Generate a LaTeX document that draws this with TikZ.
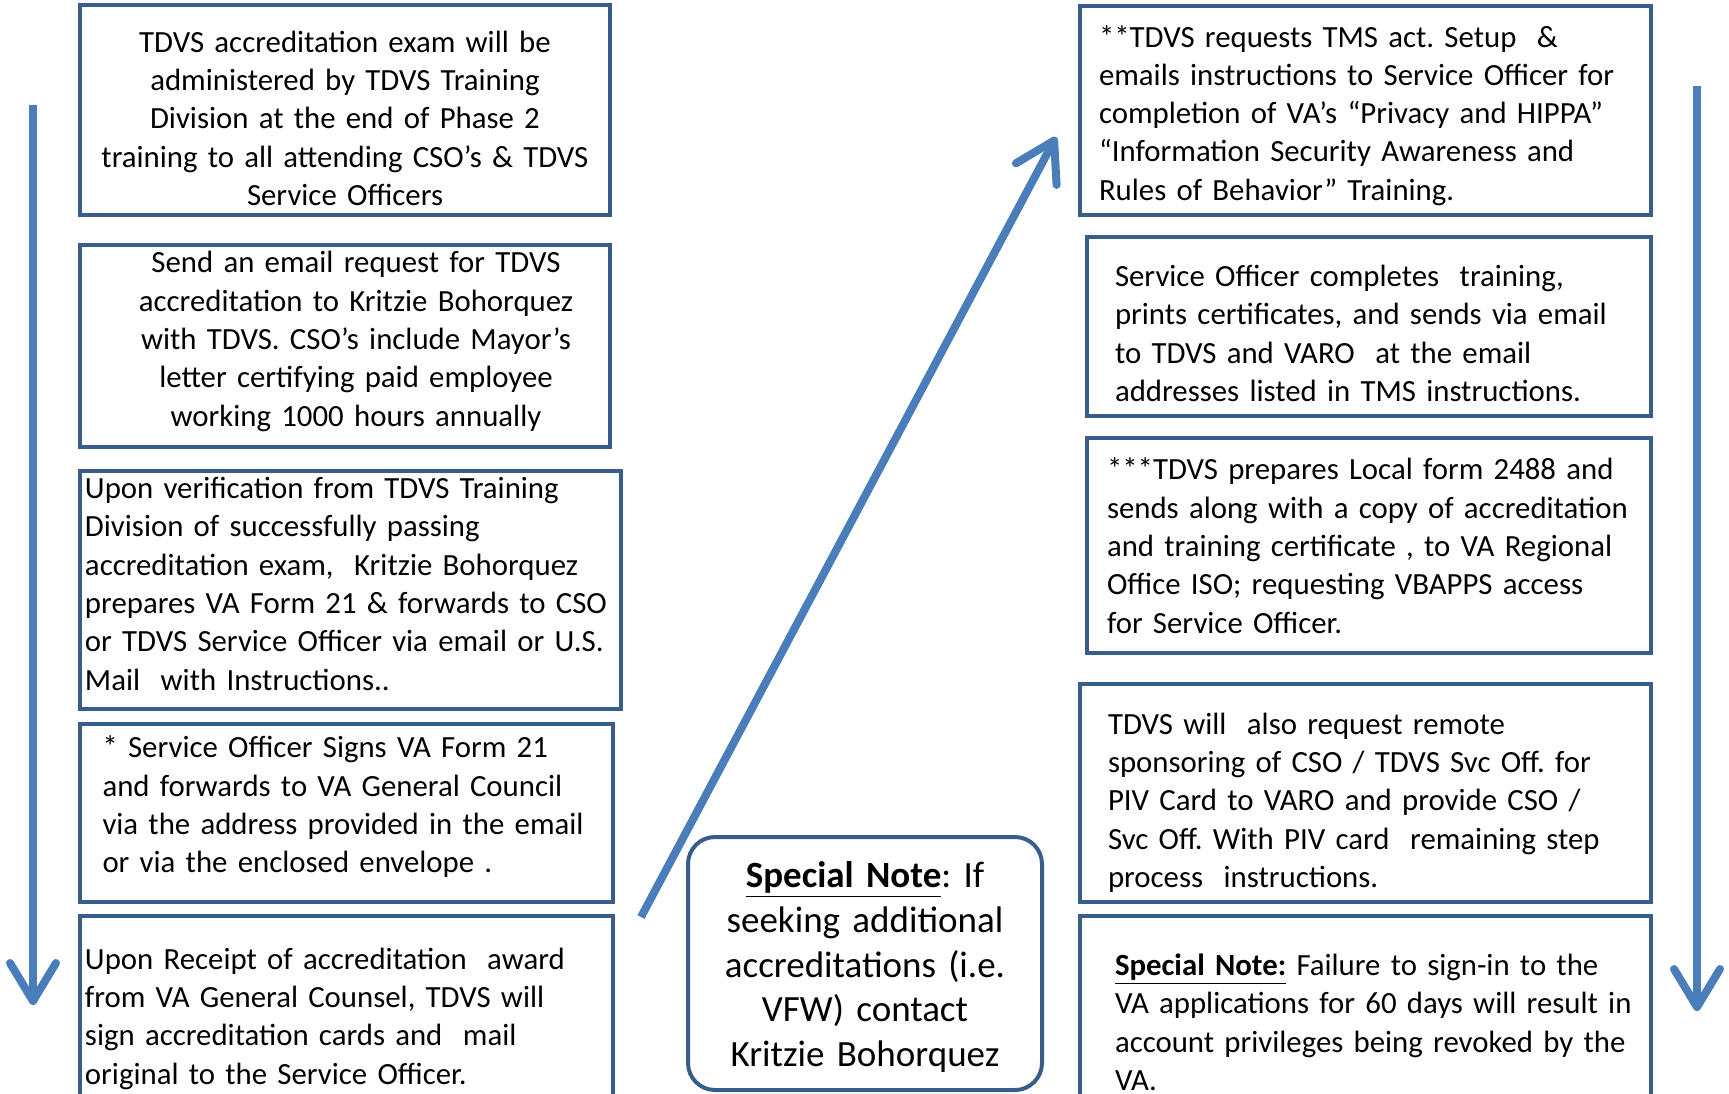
\documentclass[tikz,border=0pt]{standalone}
\usepackage{fontspec}
\setmainfont{Carlito}
\usepackage{tikz}
\usetikzlibrary{arrows.meta}
\definecolor{boxblue}{RGB}{56,93,138}
\definecolor{arrowblue}{RGB}{74,126,187}
\frenchspacing

\begin{document}
\begin{tikzpicture}[x=0.5pt, y=-0.5pt]
\useasboundingbox (0,0) rectangle (1729,1093);
\clip (0,0) rectangle (1729,1093);
\begin{scope}[every node/.style={draw=boxblue, line width=2pt, rectangle, inner sep=0pt, align=left, text height=11pt, font=\fontsize{15.4}{19.15}\selectfont},
  lskip/.style={execute at begin node={\leftskip=#1\relax}},
  cskip/.style={execute at begin node={\leftskip=#1 plus 1fil\rightskip=0pt plus 1fil\parfillskip=0pt\relax}},
  flowarrow/.style={-{Straight Barb[length=19pt, width=23pt, round]}, color=arrowblue, line width=4pt}]

% left column
\node[minimum width=265pt, minimum height=104.75pt, text width=257pt, align=center, text depth=68.8pt] (l1) at (345,110) {TDVS accreditation exam will be\\
administered by TDVS Training\\
Division at the end of Phase 2\\
training to all attending CSO’s \& TDVS\\
Service Officers};
\node[minimum width=265pt, minimum height=101pt, text width=257pt, align=center, cskip=11pt, text depth=84.2pt] (l2) at (345,346) {Send an email request for TDVS\\
accreditation to Kritzie Bohorquez\\
with TDVS. CSO’s include Mayor’s\\
letter certifying paid employee\\
working 1000 hours annually};
\node[minimum width=270.5pt, minimum height=119pt, text width=268.5pt, lskip=1.5pt, text depth=102.35pt] (l3) at (350.5,590) {Upon verification from TDVS Training\\
Division of successfully passing\\
accreditation exam, \ Kritzie Bohorquez\\
prepares VA Form 21 \& forwards to CSO\\
or TDVS Service Officer via email or U.S.\\
Mail \ with Instructions..};
\node[minimum width=266.5pt, minimum height=89pt, text width=264.5pt, lskip=10.25pt, text depth=66.25pt] (l4) at (346.5,813) {* Service Officer Signs VA Form 21\\
and forwards to VA General Council\\
via the address provided in the email\\
or via the enclosed envelope .};
\node[minimum width=266.5pt, minimum height=99.5pt, text width=264.5pt, lskip=1.5pt, text depth=57.25pt] (l5) at (346.5,1015.5) {Upon Receipt of accreditation \ award\\
from VA General Counsel, TDVS will\\
sign accreditation cards and \ mail\\
original to the Service Officer.};

% middle note
\node[minimum width=177pt, minimum height=126.5pt, text width=172pt, align=center, rounded corners=13.5pt, text height=13pt, text depth=88.7pt, font=\fontsize{18.5}{22.35}\selectfont] (note) at (865,963.5) {\underline{\textbf{Special Note}}: If\\
seeking additional\\
accreditations (i.e.\\
VFW) contact\\
Kritzie Bohorquez};

% right column
\node[minimum width=285.5pt, minimum height=104.75pt, text width=283.5pt, lskip=8.5pt, text depth=74.2pt] (r1) at (1365.5,110.25) {**TDVS requests TMS act. Setup \ \&\\
emails instructions to Service Officer for\\
completion of VA’s “Privacy and HIPPA”\\
“Information Security Awareness and\\
Rules of Behavior” Training.};
\node[minimum width=282pt, minimum height=89.5pt, text width=280pt, lskip=13pt, text depth=50.85pt] (r2) at (1369,326.5) {Service Officer completes \ training,\\
prints certificates, and sends via email\\
to TDVS and VARO \ at the email\\
addresses listed in TMS instructions.};
\node[minimum width=282pt, minimum height=107.5pt, text width=280pt, lskip=9pt, text depth=76.6pt] (r3) at (1369,545.5) {***TDVS prepares Local form 2488 and\\
sends along with a copy of accreditation\\
and training certificate , to VA Regional\\
Office ISO; requesting VBAPPS access\\
for Service Officer.};
\node[minimum width=285.5pt, minimum height=109pt, text width=283.5pt, lskip=13pt, text depth=69.8pt] (r4) at (1365.5,793) {TDVS will \ also request remote\\
sponsoring of CSO / TDVS Svc Off. for\\
PIV Card to VARO and provide CSO /\\
Svc Off. With PIV card \ remaining step\\
process \ instructions.};
\node[minimum width=285.5pt, minimum height=107pt, text width=283.5pt, lskip=16.5pt, text depth=58.45pt] (r5) at (1365.5,1023) {\underline{\textbf{Special Note:}} Failure to sign-in to the\\
VA applications for 60 days will result in\\
account privileges being revoked by the\\
VA.};

% arrows
\coordinate (ltop) at (33,105);
\coordinate (lbot) at (33,1005);
\coordinate (dstart) at (641,917);
\coordinate (dend) at (1056,137);
\coordinate (rtop) at (1697,86);
\coordinate (rbot) at (1697,1011);

\draw[flowarrow] (ltop) -- (lbot);
\draw[flowarrow] (dstart) -- (dend);
\draw[flowarrow] (rtop) -- (rbot);
\end{scope}
\end{tikzpicture}
\end{document}
